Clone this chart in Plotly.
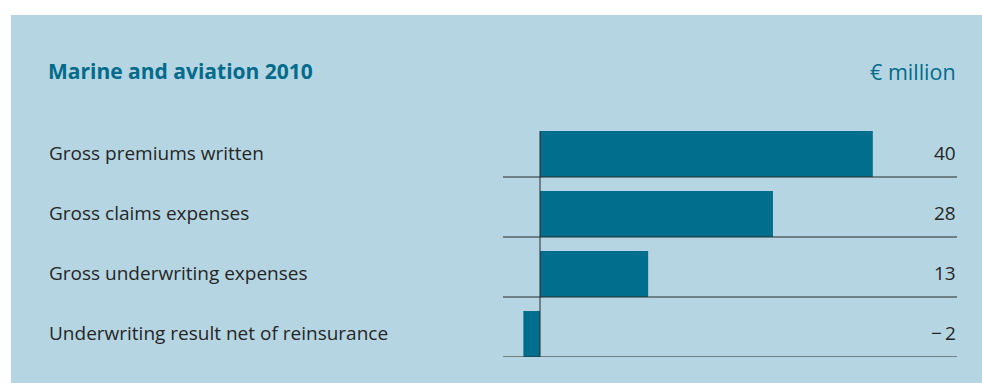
import plotly.graph_objects as go

# Marine and aviation 2010, € million
categories = [
    "Gross premiums written",
    "Gross claims expenses",
    "Gross underwriting expenses",
    "Underwriting result net of reinsurance",
]
values = [40, 28, 13, -2]
value_labels = ["40", "28", "13", "\u2212\u20092"]

W, H = 982, 383
M_L, M_R, M_T, M_B = 503, 25, 117, 26
PW = W - M_L - M_R
PH = H - M_T - M_B

BAR = "#006e8c"
PANEL = "#b5d5e2"
TEXT = "#262626"
TEAL = "#006b8a"
FONT = "Open Sans"

n = len(categories)
bar_h = 46 / 60  # bar thickness as share of one row
# rows top-to-bottom; bars sit on the row's bottom rule
y_centers = [(n - 1 - i) + bar_h / 2 for i in range(n)]


def px_x(p):
    return (p - M_L) / PW


def px_y(p):
    return (H - M_B - p) / PH


fig = go.Figure()
fig.add_trace(go.Bar(
    x=values,
    y=y_centers,
    orientation="h",
    width=bar_h,
    marker=dict(color=BAR, line=dict(width=0)),
    hoverinfo="skip",
))

shapes = [
    # background panel
    dict(type="rect", xref="paper", yref="paper",
         x0=px_x(11), x1=px_x(W + 2), y0=px_y(H + 2), y1=px_y(15),
         fillcolor=PANEL, line=dict(width=0), layer="below"),
]
# row rules
for i in range(n):
    yb = n - 1 - i
    shapes.append(dict(type="line", xref="paper", yref="y",
                       x0=0, x1=1, y0=yb, y1=yb,
                       line=dict(color="#2b2b2b", width=1), layer="above"))
# zero axis
shapes.append(dict(type="line", xref="x", yref="y",
                   x0=0, x1=0, y0=0, y1=(n - 1) + bar_h,
                   line=dict(color="#2b2b2b", width=1), layer="above"))

annotations = []
for i, (cat, lab) in enumerate(zip(categories, value_labels)):
    annotations.append(dict(
        text=cat, xref="paper", yref="y", x=px_x(47), y=y_centers[i],
        xanchor="left", yanchor="middle", showarrow=False, yshift=1.5,
        font=dict(family=FONT, size=19, color=TEXT)))
    annotations.append(dict(
        text=lab, xref="paper", yref="y", x=px_x(958), y=y_centers[i],
        xanchor="right", yanchor="middle", showarrow=False, yshift=1.5,
        font=dict(family=FONT, size=19, color=TEXT)))

annotations.append(dict(
    text="<b>Marine and aviation 2010</b>", xref="paper", yref="paper",
    x=px_x(46), y=px_y(71), xanchor="left", yanchor="middle",
    showarrow=False, font=dict(family=FONT, size=21, color=TEAL)))
annotations.append(dict(
    text="€ million", xref="paper", yref="paper",
    x=px_x(958), y=px_y(71), xanchor="right", yanchor="middle",
    showarrow=False, font=dict(family=FONT, size=21.5, color=TEAL)))

fig.update_layout(
    width=W, height=H,
    margin=dict(l=M_L, r=M_R, t=M_T, b=M_B, pad=0),
    paper_bgcolor="white",
    plot_bgcolor="rgba(0,0,0,0)",
    showlegend=False,
    xaxis=dict(range=[-37 / 8.32, 417 / 8.32], visible=False, fixedrange=True),
    yaxis=dict(range=[0, n], visible=False, fixedrange=True),
    shapes=shapes,
    annotations=annotations,
)

fig.write_html("out.html", config={"displayModeBar": False})
